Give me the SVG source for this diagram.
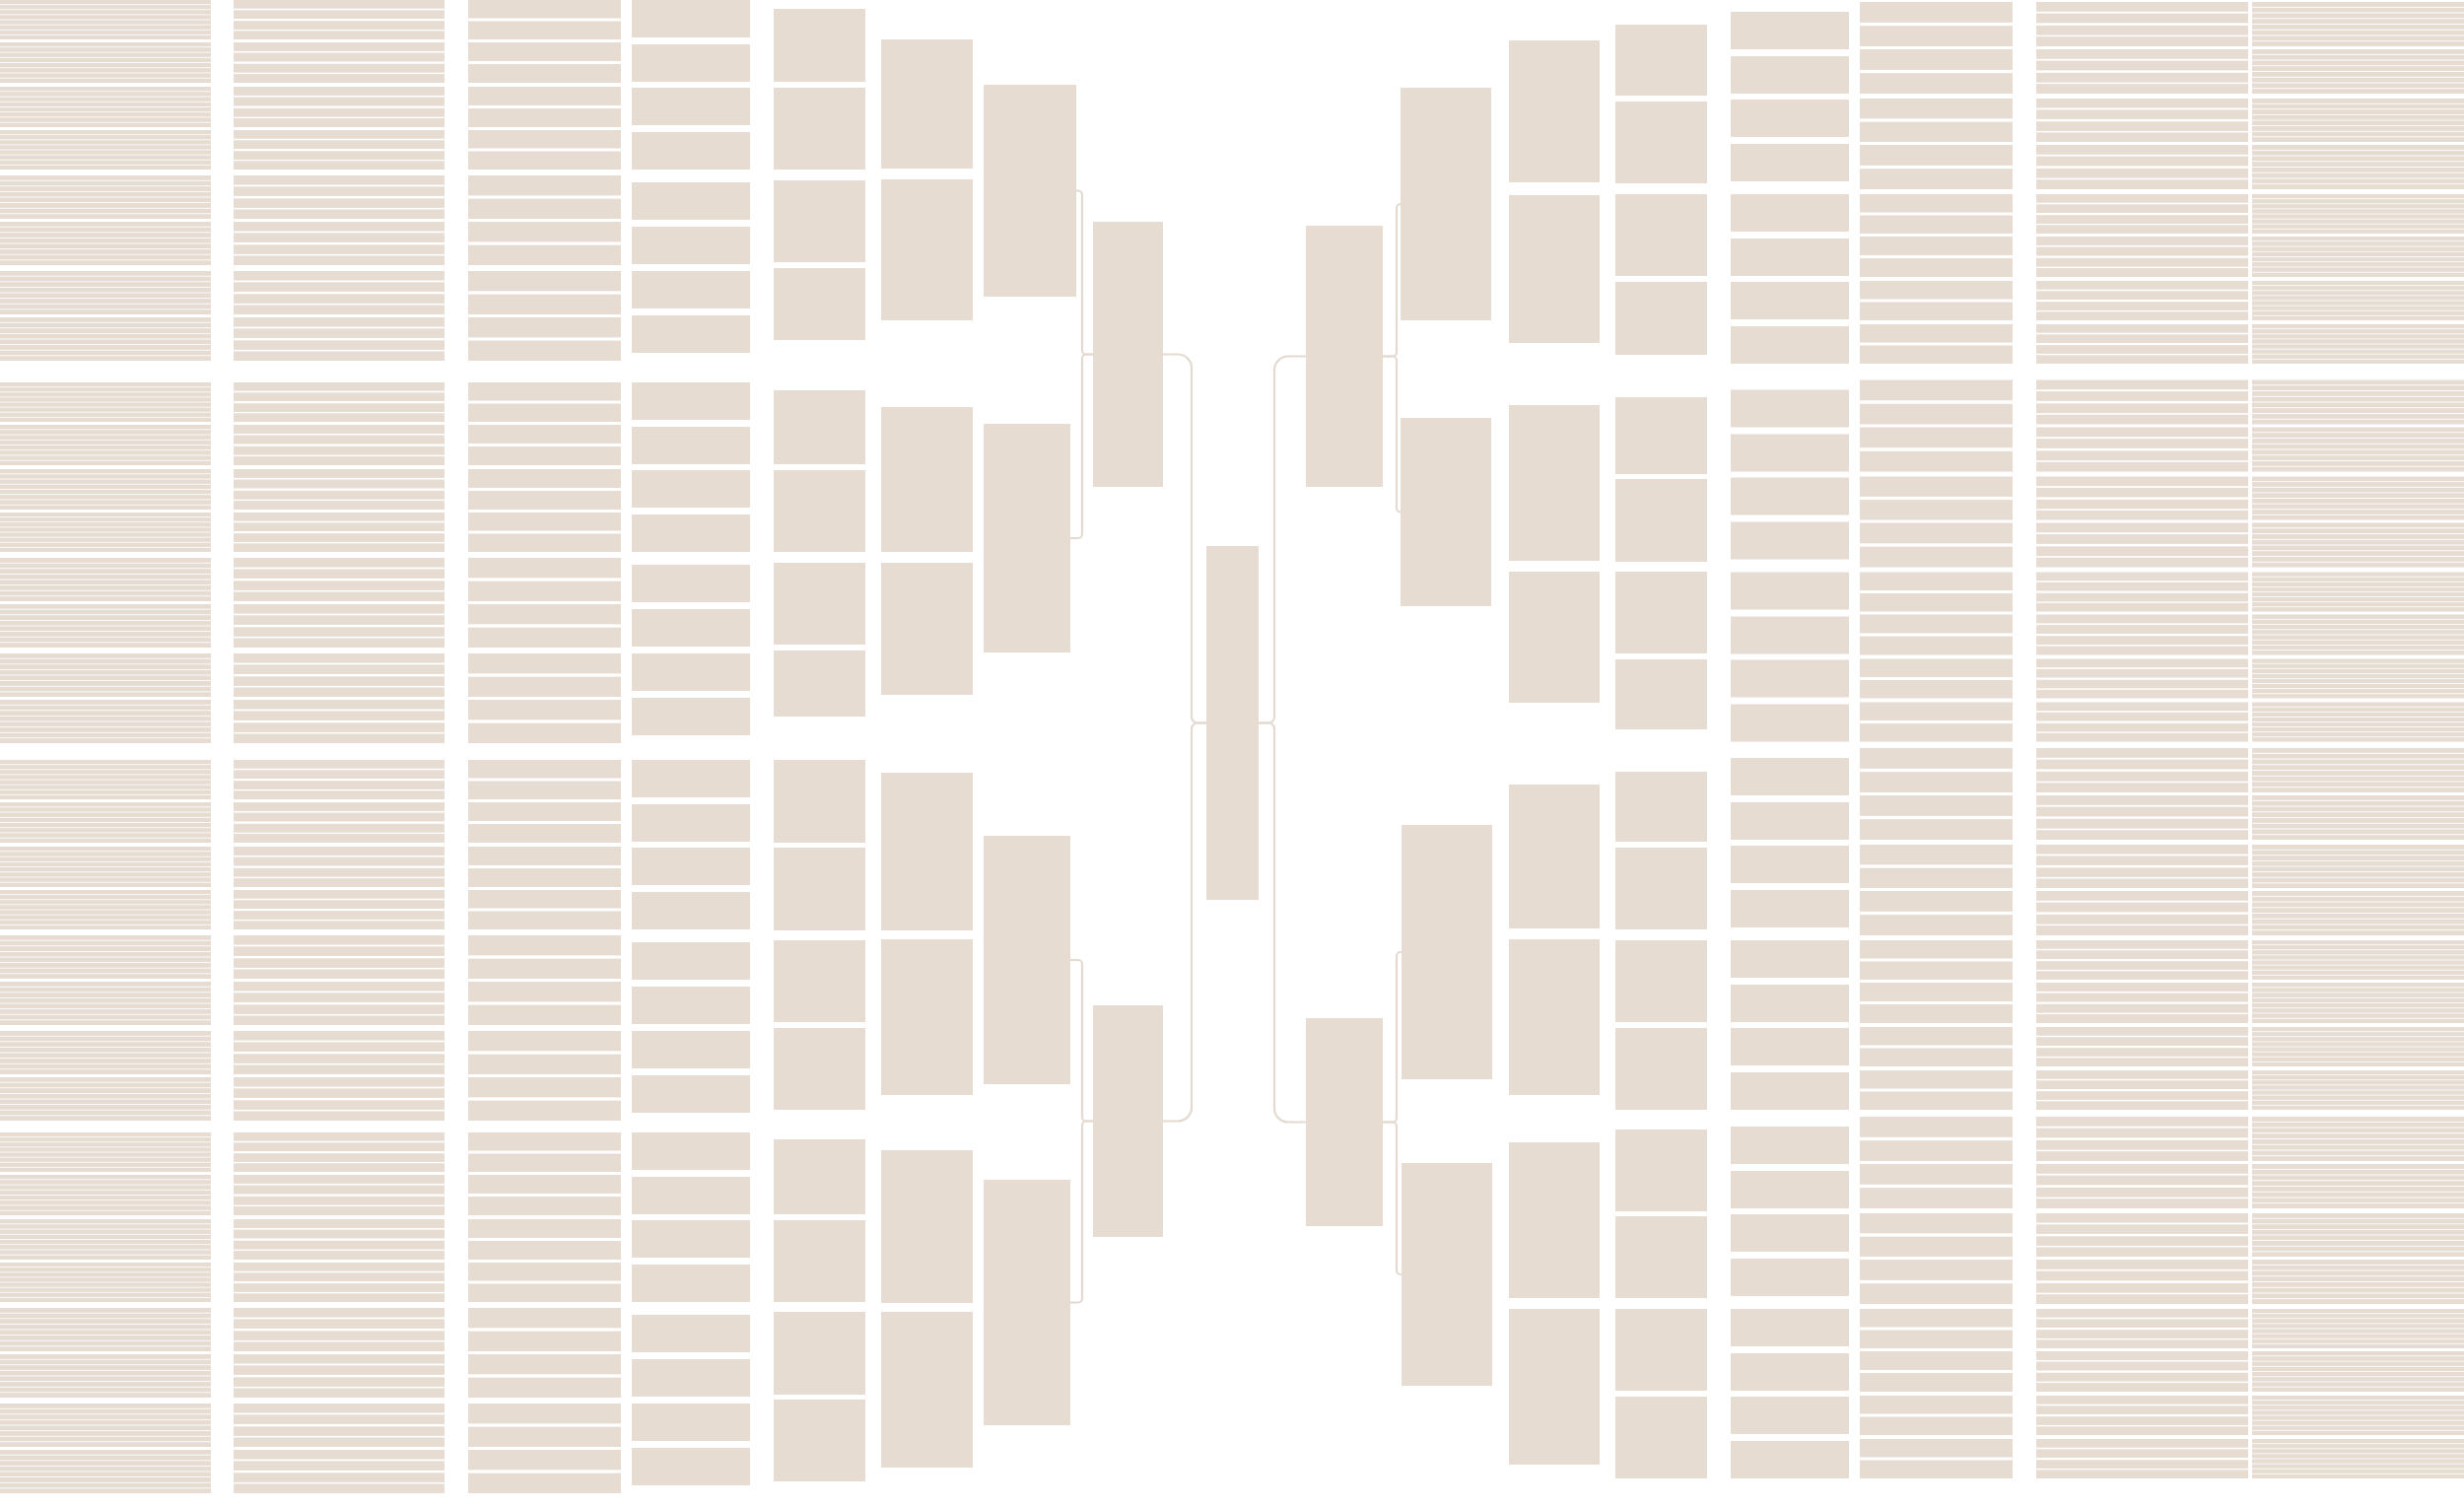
<svg xmlns="http://www.w3.org/2000/svg" xmlns:xlink="http://www.w3.org/1999/xlink" width="2500" height="1529" viewBox="0 0 2500 1529">
<style>
.n{fill:#e6dcd2}
.c{fill:none;stroke:#e4dad0;stroke-width:2.2;stroke-linecap:round}
</style>
<defs>
<g id="LU" class="n">
<rect x="475" y="0" width="155" height="18.5"/><rect x="475" y="21.5" width="155" height="18.5"/>
<rect x="237" y="0" width="214" height="8.7"/><rect x="237" y="10.3" width="214" height="8.7"/><rect x="237" y="21.2" width="214" height="8.7"/><rect x="237" y="31.3" width="214" height="8.7"/>
<rect x="0" y="0" width="214" height="4.3"/><rect x="0" y="5.1" width="214" height="4.3"/><rect x="0" y="10.2" width="214" height="4.3"/><rect x="0" y="15.3" width="214" height="4.3"/><rect x="0" y="20.4" width="214" height="4.3"/><rect x="0" y="25.5" width="214" height="4.3"/><rect x="0" y="30.6" width="214" height="4.3"/><rect x="0" y="35.7" width="214" height="4.3"/>
</g>
<g id="RU" class="n">
<rect x="1887" y="0" width="155" height="18.5"/><rect x="1887" y="21.5" width="155" height="18.5"/>
<rect x="2066" y="0" width="215" height="8.7"/><rect x="2066" y="10.3" width="215" height="8.7"/><rect x="2066" y="21.2" width="215" height="8.7"/><rect x="2066" y="31.3" width="215" height="8.7"/>
<rect x="2285" y="0" width="215" height="4.3"/><rect x="2285" y="5.1" width="215" height="4.3"/><rect x="2285" y="10.2" width="215" height="4.3"/><rect x="2285" y="15.3" width="215" height="4.3"/><rect x="2285" y="20.4" width="215" height="4.3"/><rect x="2285" y="25.5" width="215" height="4.3"/><rect x="2285" y="30.6" width="215" height="4.3"/><rect x="2285" y="35.7" width="215" height="4.3"/>
</g>
<g id="LQ">
<g class="n"><rect x="641" y="0" width="120" height="38"/><rect x="641" y="45" width="120" height="38"/><rect x="641" y="89" width="120" height="38"/><rect x="641" y="134" width="120" height="38"/><rect x="641" y="185" width="120" height="38"/><rect x="641" y="230" width="120" height="38"/><rect x="641" y="275" width="120" height="38"/><rect x="641" y="320" width="120" height="38"/></g>
<use href="#LU" xlink:href="#LU"/>
<use href="#LU" xlink:href="#LU" transform="translate(0,43) scale(1,1.025)"/>
<use href="#LU" xlink:href="#LU" transform="translate(0,88) scale(1,1.025)"/>
<use href="#LU" xlink:href="#LU" transform="translate(0,132)"/>
<use href="#LU" xlink:href="#LU" transform="translate(0,178) scale(1,1.1)"/>
<use href="#LU" xlink:href="#LU" transform="translate(0,225) scale(1,1.1)"/>
<use href="#LU" xlink:href="#LU" transform="translate(0,275) scale(1,1.1)"/>
<use href="#LU" xlink:href="#LU" transform="translate(0,322) scale(1,1.1)"/>
</g>
<g id="RQ">
<g class="n"><rect x="1756" y="10" width="120" height="38"/><rect x="1756" y="55" width="120" height="38"/><rect x="1756" y="99" width="120" height="38"/><rect x="1756" y="144" width="120" height="38"/><rect x="1756" y="195" width="120" height="38"/><rect x="1756" y="240" width="120" height="38"/><rect x="1756" y="284" width="120" height="38"/><rect x="1756" y="329" width="120" height="38"/></g>
<use href="#RU" xlink:href="#RU" transform="scale(1,1.125)"/>
<use href="#RU" xlink:href="#RU" transform="translate(0,48) scale(1,1.125)"/>
<use href="#RU" xlink:href="#RU" transform="translate(0,98) scale(1,1.1)"/>
<use href="#RU" xlink:href="#RU" transform="translate(0,145) scale(1,1.125)"/>
<use href="#RU" xlink:href="#RU" transform="translate(0,195)"/>
<use href="#RU" xlink:href="#RU" transform="translate(0,238) scale(1,1.025)"/>
<use href="#RU" xlink:href="#RU" transform="translate(0,283)"/>
<use href="#RU" xlink:href="#RU" transform="translate(0,327)"/>
</g>
</defs>
<rect width="2500" height="1529" fill="#ffffff"/>
<g id="connectors" class="c">
<path d="M1180,359.5 H1195 A14,14 0 0 1 1209,373.5 V727.5 A6,6 0 0 0 1215,733.5 H1224"/>
<path d="M1224,733.5 H1215 A6,6 0 0 0 1209,739.5 V1123.5 A14,14 0 0 1 1195,1137.5 H1180"/>
<path d="M1277,733.5 H1287 A6,6 0 0 0 1293,727.5 V375.5 A14,14 0 0 1 1307,361.5 H1325"/>
<path d="M1277,733.5 H1287 A6,6 0 0 1 1293,739.5 V1124.5 A14,14 0 0 0 1307,1138.5 H1325"/>
<path d="M1092,193.5 H1094 A4,4 0 0 1 1098,197.5 V355.5 A4,4 0 0 0 1102,359.5 H1109"/>
<path d="M1109,359.5 H1102 A4,4 0 0 0 1098,363.5 V542 A4,4 0 0 1 1094,546 H1086"/>
<path d="M1086,974 H1094 A4,4 0 0 1 1098,978 V1133.5 A4,4 0 0 0 1102,1137.5 H1109"/>
<path d="M1109,1137.5 H1102 A4,4 0 0 0 1098,1141.5 V1317.5 A4,4 0 0 1 1094,1321.5 H1086"/>
<path d="M1403,361.5 H1413 A4,4 0 0 0 1417,357.5 V211 A4,4 0 0 1 1421,207"/>
<path d="M1403,361.5 H1413 A4,4 0 0 1 1417,365.5 V515.5 A4,4 0 0 0 1421,519.5"/>
<path d="M1403,1138.5 H1413 A4,4 0 0 0 1417,1134.5 V970 A4,4 0 0 1 1421,966"/>
<path d="M1403,1138.5 H1413 A4,4 0 0 1 1417,1142.5 V1289 A4,4 0 0 0 1421,1293"/>
</g>
<g id="root" class="n"><rect x="1224" y="554" width="53" height="359"/></g>
<g id="left-l1" class="n">
<g id="L1a"><rect x="1109" y="225" width="71" height="269"/></g>
<g id="L1b"><rect x="1109" y="1020" width="71" height="235"/></g>
</g>
<g id="left-l2" class="n">
<g id="L2a"><rect x="998" y="86" width="94" height="215"/></g>
<g id="L2b"><rect x="998" y="430" width="88" height="232"/></g>
<g id="L2c"><rect x="998" y="848" width="88" height="252"/></g>
<g id="L2d"><rect x="998" y="1197" width="88" height="249"/></g>
</g>
<g id="left-l3" class="n">
<g id="L3a"><rect x="894" y="40" width="93" height="131"/></g>
<g id="L3b"><rect x="894" y="182" width="93" height="143"/></g>
<g id="L3c"><rect x="894" y="413" width="93" height="147"/></g>
<g id="L3d"><rect x="894" y="571" width="93" height="134"/></g>
<g id="L3e"><rect x="894" y="784" width="93" height="160"/></g>
<g id="L3f"><rect x="894" y="953" width="93" height="158"/></g>
<g id="L3g"><rect x="894" y="1167" width="93" height="155"/></g>
<g id="L3h"><rect x="894" y="1331" width="93" height="158"/></g>
</g>
<g id="left-l4" class="n">
<g id="L4a"><rect x="785" y="9" width="93" height="74"/></g>
<g id="L4b"><rect x="785" y="89" width="93" height="83"/></g>
<g id="L4c"><rect x="785" y="183" width="93" height="83"/></g>
<g id="L4d"><rect x="785" y="272" width="93" height="73"/></g>
<g id="L4e"><rect x="785" y="396" width="93" height="75"/></g>
<g id="L4f"><rect x="785" y="477" width="93" height="83"/></g>
<g id="L4g"><rect x="785" y="571" width="93" height="83"/></g>
<g id="L4h"><rect x="785" y="660" width="93" height="67"/></g>
<g id="L4i"><rect x="785" y="771" width="93" height="84"/></g>
<g id="L4j"><rect x="785" y="860" width="93" height="84"/></g>
<g id="L4k"><rect x="785" y="954" width="93" height="83"/></g>
<g id="L4l"><rect x="785" y="1043" width="93" height="83"/></g>
<g id="L4m"><rect x="785" y="1156" width="93" height="76"/></g>
<g id="L4n"><rect x="785" y="1238" width="93" height="83"/></g>
<g id="L4o"><rect x="785" y="1331" width="93" height="84"/></g>
<g id="L4p"><rect x="785" y="1420" width="93" height="83"/></g>
</g>
<g id="left-q1"><use href="#LQ" xlink:href="#LQ"/></g>
<g id="left-q2"><use href="#LQ" xlink:href="#LQ" transform="translate(0,388)"/></g>
<g id="left-q3"><use href="#LQ" xlink:href="#LQ" transform="translate(0,771)"/></g>
<g id="left-q4"><use href="#LQ" xlink:href="#LQ" transform="translate(0,1149)"/></g>
<g id="right-l1" class="n">
<g id="R1a"><rect x="1325" y="229" width="78" height="265"/></g>
<g id="R1b"><rect x="1325" y="1033" width="78" height="211"/></g>
</g>
<g id="right-l2" class="n">
<g id="R2a"><rect x="1421" y="89" width="92" height="236"/></g>
<g id="R2b"><rect x="1421" y="424" width="92" height="191"/></g>
<g id="R2c"><rect x="1422" y="837" width="92" height="258"/></g>
<g id="R2d"><rect x="1422" y="1180" width="92" height="226"/></g>
</g>
<g id="right-l3" class="n">
<g id="R3a"><rect x="1531" y="41" width="92" height="144"/></g>
<g id="R3b"><rect x="1531" y="198" width="92" height="150"/></g>
<g id="R3c"><rect x="1531" y="411" width="92" height="158"/></g>
<g id="R3d"><rect x="1531" y="580" width="92" height="133"/></g>
<g id="R3e"><rect x="1531" y="796" width="92" height="146"/></g>
<g id="R3f"><rect x="1531" y="953" width="92" height="158"/></g>
<g id="R3g"><rect x="1531" y="1159" width="92" height="158"/></g>
<g id="R3h"><rect x="1531" y="1328" width="92" height="158"/></g>
</g>
<g id="right-l4" class="n">
<g id="R4a"><rect x="1639" y="25" width="93" height="72"/></g>
<g id="R4b"><rect x="1639" y="103" width="93" height="83"/></g>
<g id="R4c"><rect x="1639" y="197" width="93" height="83"/></g>
<g id="R4d"><rect x="1639" y="286" width="93" height="74"/></g>
<g id="R4e"><rect x="1639" y="403" width="93" height="78"/></g>
<g id="R4f"><rect x="1639" y="486" width="93" height="84"/></g>
<g id="R4g"><rect x="1639" y="580" width="93" height="83"/></g>
<g id="R4h"><rect x="1639" y="669" width="93" height="71"/></g>
<g id="R4i"><rect x="1639" y="783" width="93" height="71"/></g>
<g id="R4j"><rect x="1639" y="860" width="93" height="83"/></g>
<g id="R4k"><rect x="1639" y="954" width="93" height="83"/></g>
<g id="R4l"><rect x="1639" y="1043" width="93" height="83"/></g>
<g id="R4m"><rect x="1639" y="1146" width="93" height="83"/></g>
<g id="R4n"><rect x="1639" y="1234" width="93" height="83"/></g>
<g id="R4o"><rect x="1639" y="1328" width="93" height="83"/></g>
<g id="R4p"><rect x="1639" y="1417" width="93" height="83"/></g>
</g>
<g id="right-q1"><use href="#RQ" xlink:href="#RQ" transform="translate(0,2)"/></g>
<g id="right-q2"><use href="#RQ" xlink:href="#RQ" transform="translate(0,385.5)"/></g>
<g id="right-q3"><use href="#RQ" xlink:href="#RQ" transform="translate(0,759)"/></g>
<g id="right-q4"><use href="#RQ" xlink:href="#RQ" transform="translate(0,1133)"/></g>
</svg>
